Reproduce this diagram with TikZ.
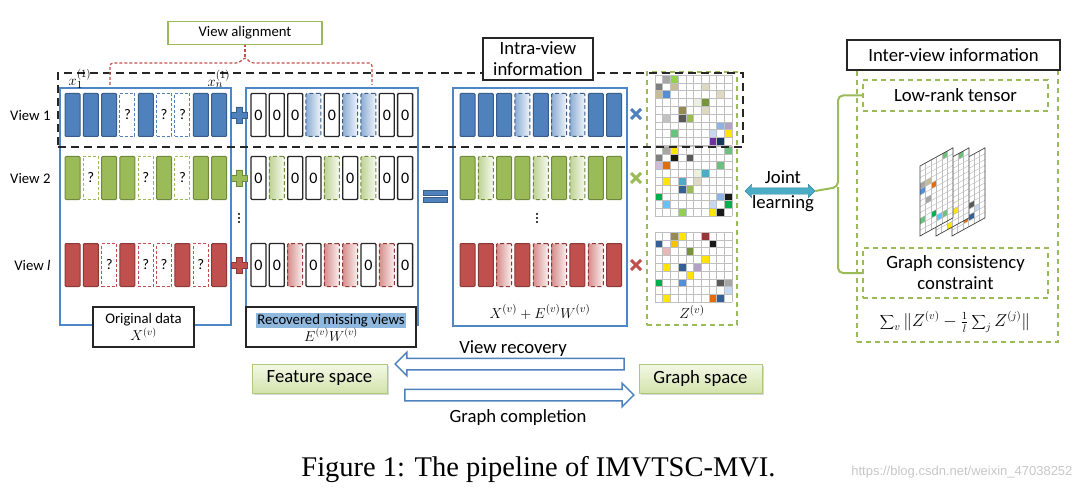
\documentclass[tikz,border=0pt]{standalone}
\usepackage{fontspec}
\setmainfont{Carlito}
\newfontfamily\capfont{Liberation Serif}
\newfontfamily\wmfont{Liberation Sans}
\usetikzlibrary{shapes.arrows,shadows}
\setlength{\fboxsep}{1pt}

\definecolor{vblue}{HTML}{4F81BD}
\definecolor{vbluedk}{HTML}{385D8A}
\definecolor{vgreen}{HTML}{9BBB59}
\definecolor{vgreendk}{HTML}{71893F}
\definecolor{vred}{HTML}{C0504D}
\definecolor{vreddk}{HTML}{8C3836}
\definecolor{boxblue}{HTML}{4F86C6}
\definecolor{hilite}{HTML}{8EB8DE}
\definecolor{jointc}{HTML}{4BACC6}
\definecolor{jointdk}{HTML}{31859C}
\definecolor{spacetop}{HTML}{F3F8E6}
\definecolor{spacebot}{HTML}{D3E3AC}
% cell colours of the graphs
\definecolor{cgray}{HTML}{A6A6A6}
\definecolor{cmgray}{HTML}{7F7F7F}
\definecolor{cdgray}{HTML}{595959}
\definecolor{ctan}{HTML}{C4BD97}
\definecolor{cltan}{HTML}{DDD9C3}
\definecolor{cblue}{HTML}{558ED5}
\definecolor{cdblue}{HTML}{366092}
\definecolor{colive}{HTML}{77933C}
\definecolor{cbrown}{HTML}{948A54}
\definecolor{cgrn}{HTML}{9BBB59}
\definecolor{clgrn}{HTML}{92D050}
\definecolor{cmgrn}{HTML}{6BC17F}
\definecolor{cbgrn}{HTML}{00B050}
\definecolor{clblue}{HTML}{8EB4E3}
\definecolor{cpblue}{HTML}{C6D9F1}
\definecolor{clav}{HTML}{B3A2C7}
\definecolor{cyel}{HTML}{FFE600}
\definecolor{cpurp}{HTML}{7030A0}
\definecolor{cnavy}{HTML}{17375E}
\definecolor{corange}{HTML}{E46C0A}
\definecolor{camber}{HTML}{FFC000}
\definecolor{cteal}{HTML}{4BACC6}
\definecolor{csky}{HTML}{66C2F0}
\definecolor{cpink}{HTML}{E6B9B8}
\definecolor{cdred}{HTML}{953735}
\definecolor{cblack}{HTML}{1A1A1A}
\definecolor{cpale}{HTML}{EBF1DE}

\newcommand{\fsa}{\fontsize{14.7}{17}\selectfont}
\newcommand{\fsb}{\fontsize{18.7}{21}\selectfont}
\newcommand{\fsm}{\fontsize{15}{18}\selectfont}

% one view: bars in the three feature blocks
\newcommand{\viewrow}[4]{%
  \foreach \m [count=\i from 0] in {#3} {
    \ifnum\m=1
      \node[fullbar=#2] (o#4\i) at (72.5+\i*\dx,#1) {};
      \node[zerobar] (r#4\i) at (258.5+\i*\dx,#1) {0};
      \node[fullbar=#2] (s#4\i) at (467.5+\i*\dx,#1) {};
    \else
      \node[missbar=#2] (o#4\i) at (72.5+\i*\dx,#1) {?};
      \node[fadebar=#2] (r#4\i) at (258.5+\i*\dx,#1) {};
      \node[fadebar=#2] (s#4\i) at (467.5+\i*\dx,#1) {};
    \fi
  }}

\newcommand{\plussign}[3]{%
  \filldraw[fill=#3,draw=#3dk,line width=.6pt,shift={(#1,#2)}]
    (-3,-8) -- (3,-8) -- (3,-3) -- (8,-3) -- (8,3) -- (3,3) -- (3,8)
    -- (-3,8) -- (-3,3) -- (-8,3) -- (-8,-3) -- (-3,-3) -- cycle;}

\newcommand{\crosssign}[3]{%
  \draw[#3,line width=3pt,shift={(#1,#2)}] (-5,-5) -- (5,5) (-5,5) -- (5,-5);}

\newcommand{\vdotsign}[2]{%
  \fill[shift={(#1,#2)}] (0,-4) circle (1.2pt) (0,0) circle (1.2pt) (0,4) circle (1.2pt);}

% 10x9 graph matrix
\newcommand{\zgrid}[2]{%
  \begin{scope}[shift={(655,#1)}]
    \foreach \cx/\ry/\cc in {#2} \fill[fill=\cc] (\cx*7.7,\ry*7.8) rectangle ++(7.7,7.8);
    \foreach \k in {0,...,10} \draw[gridc] (\k*7.7,0) -- (\k*7.7,70.2);
    \foreach \k in {0,...,9} \draw[gridc] (0,\k*7.8) -- (77,\k*7.8);
  \end{scope}}

% one slanted slice of the tensor
\newcommand{\tslice}[2]{%
  \begin{scope}[shift={(#1,166)},yslant=.55]
    \fill[white] (0,0) rectangle (33,70);
    \foreach \cx/\ry/\cc in {#2} \fill[fill=\cc] (\cx*5.5,\ry*5.833) rectangle ++(5.5,5.833);
    \foreach \k in {1,...,5} \draw[gridc] (\k*5.5,0) -- (\k*5.5,70);
    \foreach \k in {1,...,11} \draw[gridc] (0,\k*5.833) -- (33,\k*5.833);
    \draw[black!75,line width=.7pt] (0,0) rectangle (33,70);
  \end{scope}}

\begin{document}
\begin{tikzpicture}[x=1pt,y=-1pt]
  \def\dx{18.33}
  \tikzset{
    fullbar/.style={draw=#1dk,fill=#1,line width=1pt,rounded corners=1pt,minimum width=15pt,minimum height=43pt,inner sep=0pt},
    missbar/.style={draw=#1,fill=white,dash pattern=on 3pt off 2pt,line width=1pt,minimum width=15pt,minimum height=43pt,inner sep=0pt,font=\fsa},
    fadebar/.style={draw=#1dk,left color=#1!65!white,right color=#1!8!white,dash pattern=on 4pt off 2.5pt,line width=1pt,rounded corners=1pt,minimum width=15pt,minimum height=43pt,inner sep=0pt},
    zerobar/.style={draw=black!85,fill=white,line width=1.3pt,rounded corners=1pt,minimum width=15pt,minimum height=43pt,inner sep=0pt,font=\fontsize{16}{16}\selectfont},
    gridc/.style={black!25,line width=.5pt},
    redbr/.style={vred,dash pattern=on 3pt off 2pt,line width=1.2pt,rounded corners=3pt},
    bracegreen/.style={vgreen,line width=2pt,rounded corners=5pt}
  }
  \tikzstyle{bluebox}=[draw=boxblue,line width=1.5pt,inner sep=0pt]
  \tikzstyle{tagbox}=[draw=black!85,fill=white,line width=1.5pt,align=center,inner sep=0pt]
  \tikzstyle{greendash}=[draw=vgreen,dash pattern=on 5pt off 4pt,line width=1.5pt,inner sep=0pt]
  \tikzstyle{spacebox}=[draw=vgreen!80,top color=spacetop,bottom color=spacebot,line width=.8pt,inner sep=0pt,font=\fsb,drop shadow={opacity=.3}]
  \tikzstyle{blockarrow}=[single arrow,draw=vblue,fill=white,line width=1.5pt,minimum width=22pt,single arrow head extend=6pt,minimum height=229pt,inner xsep=0pt,inner ysep=5pt]

  \useasboundingbox (0,0) rectangle (1090,500);

  % feature blocks
  \node[bluebox,minimum width=171pt,minimum height=237pt] (origbox) at (145.5,206.5) {};
  \node[bluebox,minimum width=172pt,minimum height=237pt] (recbox) at (332,206.5) {};
  \node[bluebox,minimum width=174pt,minimum height=238pt] (sumbox) at (540,207) {};
  \node[greendash,minimum width=90pt,minimum height=253pt] (zbox) at (692,198.5) {};

  \viewrow{115}{vblue}{1,1,1,0,1,0,0,1,1}{a}
  \viewrow{178}{vgreen}{1,0,1,1,0,1,0,1,1}{b}
  \viewrow{265}{vred}{1,1,0,1,0,0,1,0,1}{c}

  \node[anchor=east,font=\fsa] (vname1) at (54,115) {View 1};
  \node[anchor=east,font=\fsa] (vname2) at (54,178) {View 2};
  \node[anchor=east,font=\fsa] (vnamel) at (54,265) {View \textit{l}};

  % operators
  \plussign{239}{115}{vblue}
  \plussign{239}{178}{vgreen}
  \plussign{239}{265}{vred}
  \vdotsign{239}{218}
  \vdotsign{537}{218}
  \filldraw[fill=vblue,draw=vbluedk,line width=.6pt] (423,190) rectangle (447,195) (423,197) rectangle (447,202);
  \crosssign{636}{114}{vblue}
  \crosssign{636}{178}{vgreen}
  \crosssign{636}{265}{vred}

  % graphs Z
  \zgrid{75}{1/0/cgray,2/0/clgrn,0/1/cmgray,2/1/ctan,6/1/cltan,0/2/ctan,1/2/cblue,8/2/cltan,5/3/cpale,6/3/colive,3/4/cbrown,6/4/cltan,1/5/cgray!70,3/5/cdgray,4/5/cgrn,8/6/clblue,9/6/clav,2/7/cmgrn,7/7/cpblue,9/7/cyel,7/8/cpurp,8/8/cnavy}
  \zgrid{146}{1/0/cgray,2/0/cyel,9/0/cmgrn,0/1/cmgray,2/1/cblack,4/1/cdgray,0/2/clav!70,1/2/corange,8/2/cmgrn,5/3/cpale,6/3/cteal,1/4/cyel,3/4/cteal,5/4/cltan,3/5/cdblue,4/5/cgrn,0/6/cbgrn,8/6/clblue,9/6/cblack,1/7/csky,7/7/cpblue,9/7/cbgrn,3/8/clgrn,7/8/cyel,8/8/cblack}
  \zgrid{232}{2/0/cbrown,3/0/cyel,6/0/cdred,0/1/cdblue,2/1/camber,7/1/cblack,1/2/cpink,4/2/colive,6/3/cyel,1/4/cyel,3/4/cdblue,5/4/clav,4/5/cyel,0/6/cbgrn,3/6/cblue,8/6/cdgray,9/6/cgray,9/7/cpblue,1/8/cyel,7/8/corange,8/8/cdblue}

  % view 1 highlight
  \node[draw=black!85,dash pattern=on 8pt off 5pt,line width=1.5pt,minimum width=685pt,minimum height=74pt,inner sep=0pt] (vonebox) at (400.5,110) {};

  % view alignment
  \node[draw=vgreen,fill=white,line width=1.5pt,minimum width=154pt,minimum height=23pt,font=\fsa] (valign) at (245,33) {View alignment};
  \coordinate (xone) at (110,85);
  \coordinate (xenn) at (372,85);
  \coordinate (brk) at (245,57);
  \coordinate (brl) at (239,63);
  \coordinate (brr) at (251,63);
  \draw[redbr] (xone) |- (brl) -- (brk) -- (brr) -| (xenn);
  \draw[redbr] (brk) -- (valign.south);
  \node[font=\fsm] (xfirst) at (80,79) {$x_1^{(1)}$};
  \node[font=\fsm] (xlast) at (219,79) {$x_n^{(1)}$};

  % tags
  \node[tagbox,minimum width=101pt,minimum height=40pt,font=\fsa] (origtag) at (143.5,327) {Original data\\$X^{(v)}$};
  \node[tagbox,minimum width=170pt,minimum height=40pt,font=\fsa] (rectag) at (331,327) {\colorbox{hilite}{Recovered missing views}\\$E^{(v)}W^{(v)}$};
  \node[tagbox,minimum width=110pt,minimum height=42pt,font=\fsb] (intra) at (538,59) {Intra-view\\information};
  \node[font=\fsm] (sumtext) at (540,312) {$X^{(v)}+E^{(v)}W^{(v)}$};
  \node[font=\fsm] (ztext) at (692,312) {$Z^{(v)}$};

  % inter-view information
  \node[greendash,minimum width=201pt,minimum height=272pt] (outer) at (957.5,206) {};
  \node[tagbox,minimum width=213pt,minimum height=30pt,font=\fsb] (inter) at (953.5,55) {Inter-view information};
  \node[greendash,minimum width=185pt,minimum height=31pt,font=\fsb] (lowrank) at (955.5,95.5) {Low-rank tensor};
  \node[greendash,minimum width=185pt,minimum height=50pt,font=\fsb,align=center] (gcc) at (955.5,273) {Graph consistency\\constraint};
  \node[font={\fontsize{16}{20}\selectfont}] (gform) at (955,322) {$\displaystyle\sum\nolimits_v\Big\|Z^{(v)}-{\textstyle\frac{1}{l}}\sum\nolimits_j Z^{(j)}\Big\|$};

  \tslice{952}{1/1/cdred,2/2/cblack,0/3/cltan,2/4/cyel,1/5/clav,0/7/cblue,3/8/cdgray,0/9/cyel,4/9/cpblue,2/10/corange,3/10/cdblue}
  \tslice{936}{4/0/cmgrn,0/2/cblack,1/3/cpink,2/5/cyel,0/6/cteal,1/8/cblue,3/9/cyel,2/11/cyel}
  \tslice{920}{4/0/cmgrn,0/3/cgray,1/3/ctan,0/4/cblue,2/4/corange,1/6/cgray,0/9/cmgrn,2/9/cbgrn,3/10/csky,4/10/cmgrn}

  % joint learning
  \node[double arrow,draw=jointdk,fill=jointc,minimum height=70pt,minimum width=13pt,double arrow head extend=3.5pt,inner xsep=0pt,inner ysep=3pt] (joint) at (780,191) {};
  \node[font=\fsb] (jointa) at (783,177) {Joint};
  \node[font=\fsb] (jointb) at (783,204) {learning};
  \draw[bracegreen] (lowrank.west) -| (838,187) -- (joint.east);
  \draw[bracegreen] (gcc.west) -| (838,187);

  % spaces
  \node[spacebox,minimum width=135pt,minimum height=29pt] (feat) at (319.5,378.5) {Feature space};
  \node[spacebox,minimum width=123pt,minimum height=29pt] (graph) at (700.5,378.5) {Graph space};
  \node[blockarrow,shape border rotate=180] (vrec) at (512.5,364) {};
  \node[blockarrow] (gcomp) at (516.5,395) {};
  \node[font=\fsb] (vrectext) at (513,349) {View recovery};
  \node[font=\fsb] (gcomptext) at (518,418) {Graph completion};

  % caption
  \node[font={\capfont\fontsize{28.5}{30}\selectfont}] (caption) at (538.5,470) {Figure 1: The pipeline of IMVTSC-MVI.};
  \node[anchor=east,text=black!22,font={\wmfont\fontsize{13}{14}\selectfont}] (wmark) at (1076,472) {https://blog.csdn.net/weixin\_47038252};
\end{tikzpicture}
\end{document}
